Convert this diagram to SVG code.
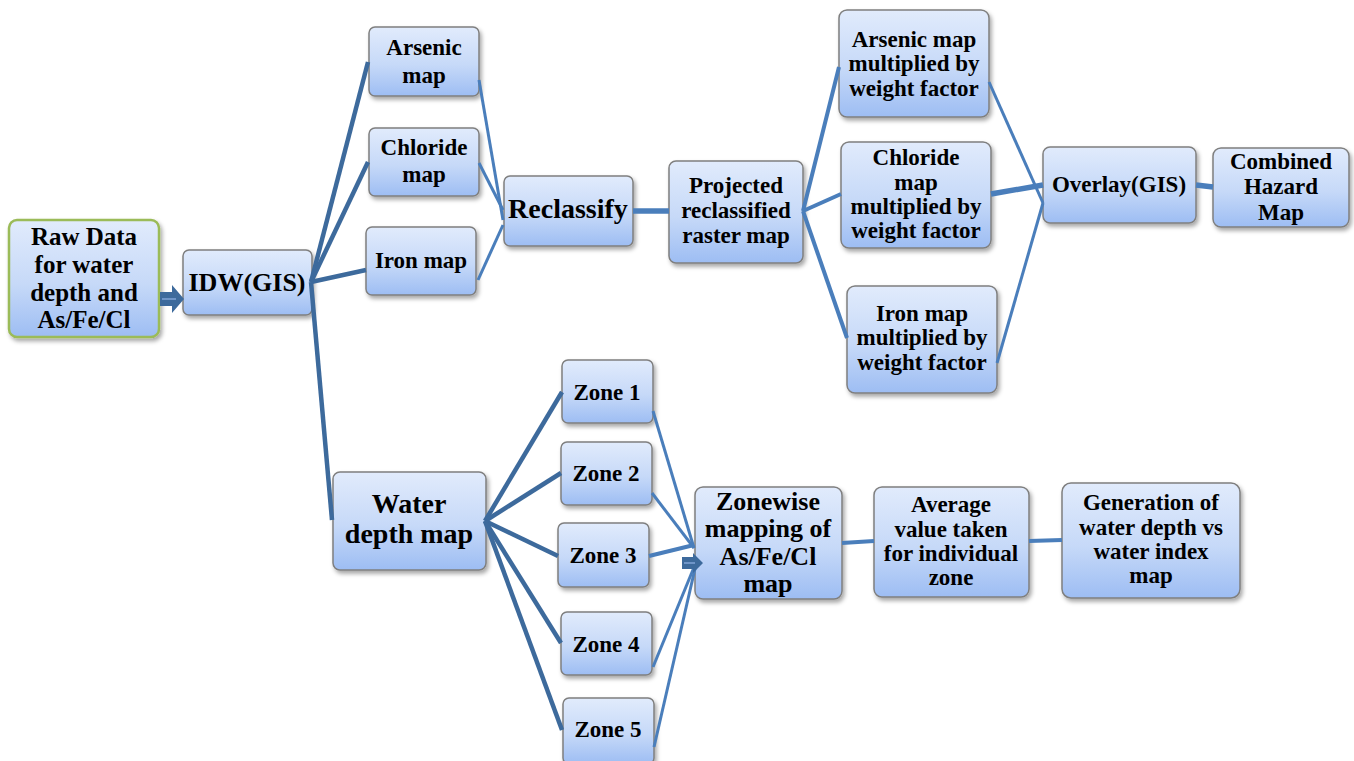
<svg xmlns="http://www.w3.org/2000/svg" width="1354" height="761" viewBox="0 0 1354 761">
<defs>
<linearGradient id="g" x1="0" y1="0" x2="0" y2="1">
<stop offset="0" stop-color="#e1ebfc"/>
<stop offset="0.55" stop-color="#c6d9f8"/>
<stop offset="1" stop-color="#9dbdf3"/>
</linearGradient>
<filter id="sh" x="-10%" y="-10%" width="125%" height="130%">
<feDropShadow dx="2" dy="3" stdDeviation="2" flood-color="#000" flood-opacity="0.35"/>
</filter>
<style>
.box{fill:url(#g);stroke:#7f7f7f;stroke-width:1.5;filter:url(#sh)}
.raw{fill:url(#g);stroke:#9bbb59;stroke-width:2.5;filter:url(#sh)}
text{font-family:"Liberation Serif","Times New Roman",serif;font-weight:bold;fill:#000;text-anchor:middle}
.s23{font-size:23px}
.s25{font-size:25px}
.s26{font-size:26px}
.s28{font-size:28px}
.c{fill:none;stroke-linecap:butt}
.d{stroke:#3d6a9c;stroke-width:4.5}
.m{stroke:#4a7ebb;stroke-width:4}
.t{stroke:#4a7ebb;stroke-width:3}
.w{stroke:#4a7ebb;stroke-width:5.5}
.arr{fill:#3d6a9c}
.arrl{stroke:#6f95c8;stroke-width:2}
</style>
</defs>
<rect width="1354" height="761" fill="#fff"/>
<g id="raw"><rect class="raw" x="9" y="220" width="150" height="117" rx="8"/>
<text class="s25" x="84" y="245">Raw Data</text><text class="s25" x="84" y="273">for water</text><text class="s25" x="84" y="301">depth and</text><text class="s25" x="84" y="328">As/Fe/Cl</text></g>
<g id="idw"><rect class="box" x="183" y="250" width="129" height="65" rx="6"/>
<text class="s26" x="247" y="291">IDW(GIS)</text></g>
<g id="arsenic"><rect class="box" x="369" y="27" width="110" height="69" rx="6"/>
<text class="s23" x="424" y="55">Arsenic</text><text class="s23" x="424" y="83">map</text></g>
<g id="chloride"><rect class="box" x="369" y="128" width="110" height="68" rx="6"/>
<text class="s23" x="424" y="155">Chloride</text><text class="s23" x="424" y="182">map</text></g>
<g id="iron"><rect class="box" x="366" y="227" width="110" height="68" rx="6"/>
<text class="s23" x="421" y="268">Iron map</text></g>
<g id="reclassify"><rect class="box" x="504" y="176" width="129" height="70" rx="6"/>
<text class="s28" x="568" y="218">Reclassify</text></g>
<g id="projected"><rect class="box" x="669" y="161" width="134" height="102" rx="7"/>
<text class="s23" x="736" y="193">Projected</text><text class="s23" x="736" y="218">reclassified</text><text class="s23" x="736" y="243">raster map</text></g>
<g id="arsenic-wf"><rect class="box" x="839" y="10" width="150" height="107" rx="8"/>
<text class="s23" x="914" y="47">Arsenic map</text><text class="s23" x="914" y="71">multiplied by</text><text class="s23" x="914" y="96">weight factor</text></g>
<g id="chloride-wf"><rect class="box" x="841" y="142" width="150" height="106" rx="8"/>
<text class="s23" x="916" y="165">Chloride</text><text class="s23" x="916" y="190">map</text><text class="s23" x="916" y="214">multiplied by</text><text class="s23" x="916" y="238">weight factor</text></g>
<g id="iron-wf"><rect class="box" x="847" y="286" width="150" height="107" rx="8"/>
<text class="s23" x="922" y="321">Iron  map</text><text class="s23" x="922" y="345">multiplied by</text><text class="s23" x="922" y="370">weight factor</text></g>
<g id="overlay"><rect class="box" x="1043" y="147" width="153" height="76" rx="7"/>
<text class="s23" x="1119" y="192">Overlay(GIS)</text></g>
<g id="combined"><rect class="box" x="1213" y="148" width="136" height="79" rx="8"/>
<text class="s23" x="1281" y="169">Combined</text><text class="s23" x="1281" y="194">Hazard</text><text class="s23" x="1281" y="220">Map</text></g>
<g id="water"><rect class="box" x="333" y="472" width="153" height="98" rx="7"/>
<text class="s28" x="409" y="513">Water</text><text class="s28" x="409" y="543">depth map</text></g>
<g id="zone1"><rect class="box" x="562" y="360" width="91" height="63" rx="6"/>
<text class="s23" x="607" y="400">Zone 1</text></g>
<g id="zone2"><rect class="box" x="561" y="442" width="91" height="63" rx="6"/>
<text class="s23" x="606" y="481">Zone 2</text></g>
<g id="zone3"><rect class="box" x="558" y="523" width="91" height="64" rx="6"/>
<text class="s23" x="603" y="563">Zone 3</text></g>
<g id="zone4"><rect class="box" x="561" y="612" width="91" height="63" rx="6"/>
<text class="s23" x="606" y="652">Zone 4</text></g>
<g id="zone5"><rect class="box" x="563" y="698" width="91" height="66" rx="6"/>
<text class="s23" x="608" y="737">Zone 5</text></g>
<g id="zonewise"><rect class="box" x="695" y="487" width="147" height="112" rx="8"/>
<text class="s26" x="768" y="510">Zonewise</text><text class="s26" x="768" y="537">mapping of</text><text class="s26" x="768" y="565">As/Fe/Cl</text><text class="s26" x="768" y="592">map</text></g>
<g id="average"><rect class="box" x="874" y="487" width="155" height="110" rx="8"/>
<text class="s23" x="951" y="512">Average</text><text class="s23" x="951" y="537">value taken</text><text class="s23" x="951" y="561">for individual</text><text class="s23" x="951" y="585">zone</text></g>
<g id="generation"><rect class="box" x="1062" y="483" width="178" height="115" rx="9"/>
<text class="s23" x="1151" y="510">Generation of</text><text class="s23" x="1151" y="535">water depth vs</text><text class="s23" x="1151" y="559">water index</text><text class="s23" x="1151" y="583">map</text></g>
<g id="connectors">
<polygon class="arr" points="160,292 172,292 172,285 184,299 172,313 172,306 160,306"/>
<line class="arrl" x1="162" y1="299" x2="176" y2="299"/>
<line class="c d" x1="311" y1="282" x2="368" y2="62"/>
<line class="c d" x1="311" y1="282" x2="368" y2="162"/>
<line class="c d" x1="311" y1="282" x2="366" y2="270"/>
<line class="c d" x1="311" y1="282" x2="332" y2="520"/>
<line class="c t" x1="479" y1="80" x2="503" y2="220"/>
<line class="c t" x1="479" y1="163" x2="503" y2="210"/>
<line class="c t" x1="478" y1="280" x2="503" y2="225"/>
<line class="c w" x1="633" y1="211" x2="669" y2="211"/>
<line class="c m" x1="803" y1="211" x2="839" y2="67"/>
<line class="c m" x1="803" y1="211" x2="841" y2="194"/>
<line class="c m" x1="803" y1="211" x2="847" y2="338"/>
<line class="c t" x1="989" y1="82" x2="1043" y2="203"/>
<line class="c w" x1="991" y1="194" x2="1043" y2="185"/>
<line class="c t" x1="997" y1="363" x2="1043" y2="203"/>
<line class="c w" x1="1196" y1="185" x2="1213" y2="187"/>
<line class="c d" x1="485" y1="521" x2="562" y2="392"/>
<line class="c d" x1="485" y1="521" x2="561" y2="473"/>
<line class="c d" x1="485" y1="521" x2="558" y2="556"/>
<line class="c d" x1="485" y1="521" x2="561" y2="643"/>
<line class="c d" x1="485" y1="521" x2="562" y2="730"/>
<line class="c t" x1="653" y1="411" x2="694" y2="548"/>
<line class="c t" x1="652" y1="493" x2="694" y2="548"/>
<line class="c m" x1="649" y1="556" x2="694" y2="545"/>
<line class="c t" x1="653" y1="667" x2="697" y2="560"/>
<line class="c t" x1="654" y1="747" x2="697" y2="560"/>
<polygon class="arr" points="682,557 693,557 693,553 703,563 693,573 693,569 682,569"/>
<line class="arrl" x1="684" y1="563" x2="695" y2="563"/>
<line class="c m" x1="842" y1="543" x2="874" y2="541"/>
<line class="c m" x1="1029" y1="541" x2="1062" y2="540"/>
</g>
</svg>
